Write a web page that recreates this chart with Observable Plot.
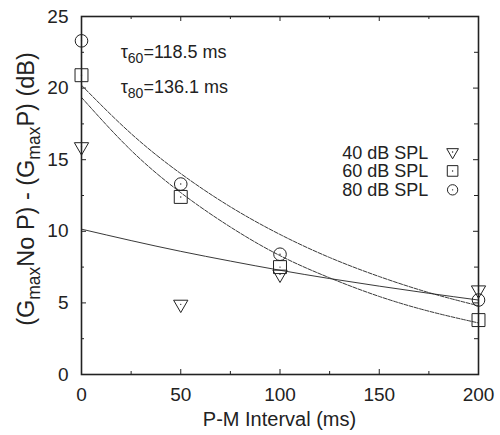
<!DOCTYPE html>
<html><head><meta charset="utf-8">
<script src="https://cdn.jsdelivr.net/npm/d3@7"></script>
<script src="https://cdn.jsdelivr.net/npm/@observablehq/plot@0.6"></script>
<style>body{margin:0;background:#fff}</style>
</head><body><div id="chart"></div>
<script>
// ---- data ----
const intervals = [0, 50, 100, 200];            // P-M interval (ms)
const spl40 = [15.9, 4.9, 7.0, 5.9];             // 40 dB SPL (triangles)
const spl60 = [20.9, 12.4, 7.5, 3.8];            // 60 dB SPL (squares)
const spl80 = [23.3, 13.3, 8.4, 5.2];            // 80 dB SPL (circles)
const fitX  = [0, 25, 50, 75, 100, 125, 150, 175, 200];
const fit40 = [10.15, 9.35, 8.6, 7.92, 7.28, 6.7, 6.17, 5.67, 5.2];
const fit60 = [19.35, 15.65, 12.7, 10.3, 8.3, 6.75, 5.45, 4.42, 3.6];
const fit80 = [20.2, 16.82, 14.03, 11.71, 9.78, 8.17, 6.84, 5.72, 4.8];
const seriesNames = ["40 dB SPL", "60 dB SPL", "80 dB SPL"];
const xTicks = [0, 50, 100, 150, 200];
const xMinor = [25, 75, 125, 175];
const yTicks = [0, 5, 10, 15, 20, 25];
const yMinor = [2.5, 7.5, 12.5, 17.5, 22.5];
const tauSubs = ["60", "80"];
const tauVals = ["=118.5 ms", "=136.1 ms"];
const xLabel = "P-M Interval (ms)";

// ---- layout ----
const W = 500, H = 435, mL = 81, mR = 22, mT = 16, mB = 61;
const PH = H - mT - mB, PW = W - mL - mR;
const FONT = "'Liberation Sans', Arial, Helvetica, sans-serif";
const INK = "#222";

const series = [
  {name: seriesNames[0], vals: spl40, fit: fit40, symbol: "triangle", rotate: 180, r: 5.3, dash: null},
  {name: seriesNames[1], vals: spl60, fit: fit60, symbol: "square", rotate: 0, r: 7.3, dash: "4,1.4"},
  {name: seriesNames[2], vals: spl80, fit: fit80, symbol: "circle", rotate: 0, r: 6.3, dash: "4,1.4"}
];
const points = series.flatMap(s => intervals.map((x, i) => ({x, y: s.vals[i], s})));
const fits = series.map(s => fitX.map((x, i) => ({x, y: s.fit[i]})));

const chart = Plot.plot({
  width: W, height: H,
  marginLeft: mL, marginRight: mR, marginTop: mT, marginBottom: mB,
  style: {fontFamily: FONT, fontSize: "19px", color: INK, background: "#fff"},
  x: {domain: [0, 200]},
  y: {domain: [0, 25]},
  marks: [
    ...fits.map((f, k) => Plot.line(f, {x: "x", y: "y", curve: "natural", stroke: INK, strokeWidth: 0.9,
      strokeDasharray: series[k].dash})),
    ...series.map(s => Plot.dot(points.filter(p => p.s === s), {x: "x", y: "y", symbol: () => s.symbol,
      r: s.r, rotate: s.rotate, stroke: INK, strokeWidth: 1, fill: "none"})),
    Plot.dot(points, {x: "x", y: "y", r: 0.7, fill: INK, stroke: "none"}),
    // inward ticks
    Plot.tickX(xTicks, {x: d => d, insetTop: PH - 5, stroke: INK, strokeWidth: 1}),
    Plot.tickX(xTicks, {x: d => d, insetBottom: PH - 5, stroke: INK, strokeWidth: 1}),
    Plot.tickX(xMinor, {x: d => d, insetTop: PH - 3, stroke: INK, strokeWidth: 1}),
    Plot.tickX(xMinor, {x: d => d, insetBottom: PH - 3, stroke: INK, strokeWidth: 1}),
    Plot.tickY(yTicks, {y: d => d, insetRight: PW - 5, stroke: INK, strokeWidth: 1}),
    Plot.tickY(yTicks, {y: d => d, insetLeft: PW - 5, stroke: INK, strokeWidth: 1}),
    Plot.tickY(yMinor, {y: d => d, insetRight: PW - 3, stroke: INK, strokeWidth: 1}),
    Plot.tickY(yMinor, {y: d => d, insetLeft: PW - 4, stroke: INK, strokeWidth: 1}),
    Plot.axisX({ticks: xTicks, tickSize: 0, tickPadding: 13, label: null}),
    Plot.axisY({ticks: yTicks, tickSize: 0, tickPadding: 13, label: null}),
    Plot.frame({stroke: INK, strokeWidth: 1.6})
  ]
});
document.getElementById("chart").appendChild(chart);

const sx = chart.scale("x"), sy = chart.scale("y");
const svg = d3.select(chart);

// x axis title
svg.append("text").attr("x", mL + PW / 2).attr("y", 426).attr("text-anchor", "middle")
  .attr("font-family", FONT).attr("font-size", 20).attr("fill", INK).text(xLabel);

// y axis title with subscripts
const yl = svg.append("text").attr("transform", `translate(34,${mT + PH / 2 - 6}) rotate(-90)`)
  .attr("text-anchor", "middle").attr("font-family", FONT).attr("font-size", 23.5).attr("fill", INK);
const ylParts = [["(G", 0], ["max", 1], ["No P) - (G", 0], ["max", 1], ["P) (dB)", 0]];
ylParts.forEach(([t, sub], i) => {
  const prevSub = i > 0 && ylParts[i - 1][1];
  yl.append("tspan").attr("font-size", sub ? 17.5 : 23.5)
    .attr("dy", sub ? 6 : (prevSub ? -6 : 0)).text(t);
});

// tau annotations
tauSubs.forEach((sub, i) => {
  const t = svg.append("text").attr("x", sx.apply(20)).attr("y", sy.apply(22.1 - i * 2.48))
    .attr("text-anchor", "start")
    .attr("font-family", FONT).attr("font-size", 18).attr("fill", INK);
  t.append("tspan").text("τ");
  t.append("tspan").attr("font-size", 14).attr("dy", 5).text(sub);
  t.append("tspan").attr("dy", -5).text(tauVals[i]);
});

// legend
series.forEach((s, i) => {
  const cy = sy.apply(15.5 - i * 1.32);
  svg.append("text").attr("x", sx.apply(175)).attr("y", cy + 6.5).attr("text-anchor", "end")
    .attr("font-family", FONT).attr("font-size", 18).attr("fill", INK).text(s.name);
  const sym = {triangle: d3.symbolTriangle, square: d3.symbolSquare, circle: d3.symbolCircle}[s.symbol];
  const rr = s.r * 0.82;
  svg.append("path").attr("d", d3.symbol(sym, rr * rr * Math.PI)())
    .attr("transform", `translate(${sx.apply(187.2)},${cy}) rotate(${s.rotate})`)
    .attr("fill", "none").attr("stroke", INK).attr("stroke-width", 1);
  svg.append("circle").attr("cx", sx.apply(187.2)).attr("cy", cy).attr("r", 0.7).attr("fill", INK);
});
</script>
</body></html>
